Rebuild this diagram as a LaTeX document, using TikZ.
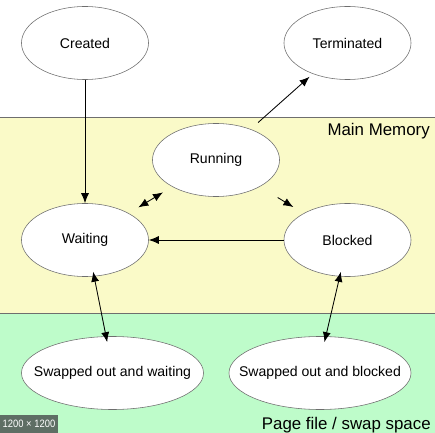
\documentclass[tikz,border=0pt]{standalone}
\usepackage{fontspec}
\setmainfont{Liberation Sans}
\usepackage{tikz}
\usetikzlibrary{arrows,shapes,arrows.meta}
\definecolor{memyellow}{HTML}{FAFAC8}
\definecolor{swapgreen}{HTML}{BEFCCA}
\definecolor{edgegray}{HTML}{6E6E6E}
\definecolor{badgegray}{HTML}{5E6E64}
\tikzstyle{state}     = [ellipse, draw=edgegray, fill=white, line width=0.4pt, inner sep=0pt, minimum width=3.175cm, minimum height=1.825cm, font=\fontsize{10}{12}\selectfont]
\tikzstyle{widestate} = [state, minimum width=4.55cm]
\tikzstyle{arrow}     = [line width=0.6pt,->,>={Latex[length=2.5mm,width=2mm]}]
\tikzstyle{area}      = [font=\fontsize{12}{14}\selectfont, anchor=base east, inner sep=0pt]

\begin{document}
\begin{tikzpicture}[x=0.025cm,y=-0.025cm]
        \useasboundingbox (0,0) rectangle (435,433);

        % memory areas
        \fill[memyellow] (0,117) rectangle (435,313);
        \fill[swapgreen] (0,313) rectangle (435,433);
        \draw[edgegray] (0,117) -- (435,117);
        \draw[edgegray] (0,313) -- (435,313);
        \node[area] (mainmem) at (430,136) {Main Memory};
        \node[area] (pagefile) at (431,429) {Page file / swap space};

        % states
        \node[state] (created) at (85,43) {Created};
        \node[state] (terminated) at (347.5,43) {Terminated};
        \node[state] (running) at (216,160) {Running};
        \node[state] (waiting) at (85,240) {Waiting};
        \node[state] (blocked) at (347.5,240) {Blocked};
        \node[widestate] (swapw) at (112.5,373) {\makebox[0pt]{Swapped out and waiting}};
        \node[widestate] (swapb) at (320,373) {\makebox[0pt]{Swapped out and blocked}};

        % transitions
        \draw[arrow] (created) -- (waiting);
        \draw[arrow, shorten <=0.25cm, shorten >=0.11cm] (running) -- (terminated);
        \draw[arrow, <->, shorten <=0.28cm, shorten >=0.27cm] (waiting) -- (running);
        \draw[arrow, shorten <=0.52cm, shorten >=0.3cm] (running) -- (blocked);
        \draw[arrow] (blocked) -- (waiting);
        \draw[arrow, <->, shorten <=-0.12cm, shorten >=-0.15cm] (waiting.284) -- (swapw.100);
        \draw[arrow, <->, shorten <=-0.12cm, shorten >=-0.15cm] (blocked.258) -- (swapb.81);

        % viewer badge
        \fill[badgegray] (0,415) rectangle (58,433);
        \node[white, font=\fontsize{7.6}{9}\selectfont] (badge) at (29,424) {\scalebox{0.88}[1]{1200 × 1200}};
    \end{tikzpicture}
\end{document}
